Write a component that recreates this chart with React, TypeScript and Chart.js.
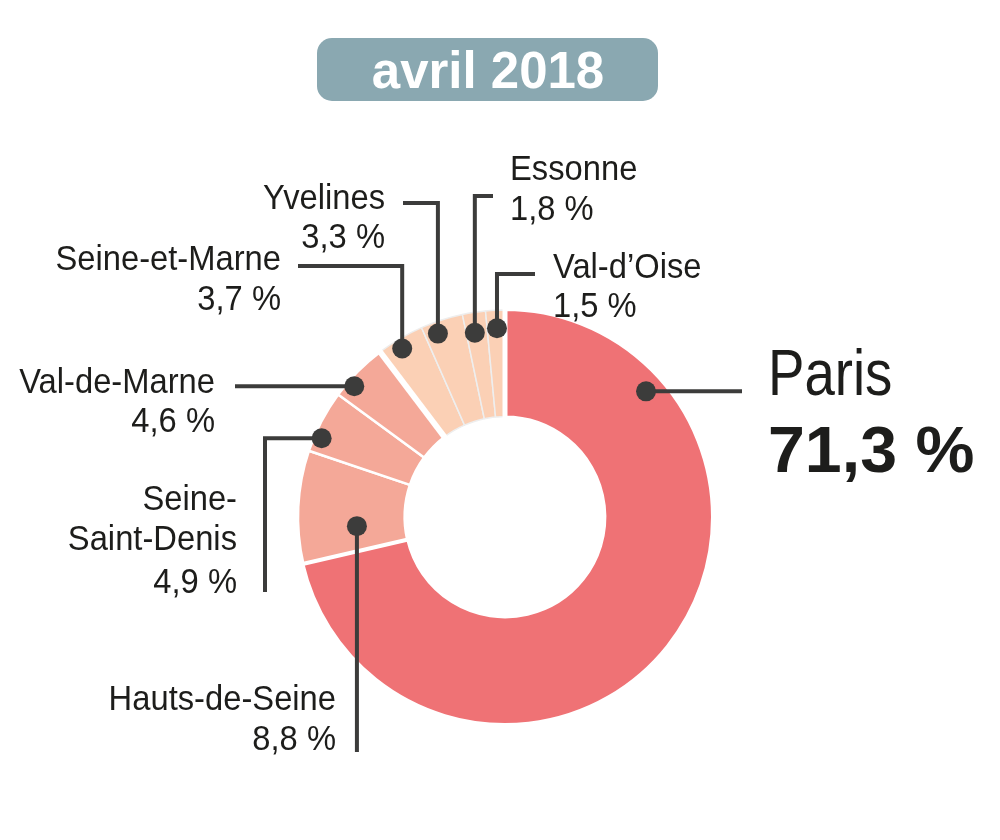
import { useEffect, useRef } from "react";
import { Chart, registerables } from "chart.js";

Chart.register(...registerables);

// ---------- data ----------
const TITLE = "avril 2018";
const departments = [
  "Paris",
  "Hauts-de-Seine",
  "Seine-Saint-Denis",
  "Val-de-Marne",
  "Seine-et-Marne",
  "Yvelines",
  "Essonne",
  "Val-d’Oise",
];
const nameLines = [
  ["Paris"],
  ["Hauts-de-Seine"],
  ["Seine-", "Saint-Denis"],
  ["Val-de-Marne"],
  ["Seine-et-Marne"],
  ["Yvelines"],
  ["Essonne"],
  ["Val-d’Oise"],
];
const shares = [71.3, 8.8, 4.9, 4.6, 3.7, 3.3, 1.8, 1.5];
const segmentColors = [
  "#EF7275",
  "#F4A898",
  "#F4A898",
  "#F4A898",
  "#FBD0B5",
  "#FBD0B5",
  "#FBD0B5",
  "#FBD0B5",
];
const segmentBorders = ["#ffffff", "#ffffff", "#ffffff", "#ffffff", "#eeeeee", "#eeeeee", "#eeeeee", "#eeeeee"];

const fmt = (v: number) => v.toFixed(1).replace(".", ",") + " %";

// ---------- layout (label placement) ----------
type Step = ["h" | "v", number];
interface LabelLayout {
  t: number; // fraction along arc for the dot
  r: number; // radial fraction for the dot
  path: Step[];
  x: number;
  align: CanvasTextAlign;
  baselines: number[];
}
const labelLayout: LabelLayout[] = [
  { t: 0.188, r: 0.83, path: [["h", 742]], x: 768, align: "left", baselines: [395, 472] },
  { t: 0.3, r: 0.45, path: [["v", 752]], x: 336, align: "right", baselines: [710, 750] },
  { t: 0.26, r: 0.93, path: [["h", 265], ["v", 592]], x: 237, align: "right", baselines: [510, 550, 593] },
  { t: 0.28, r: 0.93, path: [["h", 235]], x: 215, align: "right", baselines: [393, 432] },
  { t: 0.43, r: 0.91, path: [["v", 266], ["h", 298]], x: 281, align: "right", baselines: [270, 310] },
  { t: 0.31, r: 0.89, path: [["v", 203], ["h", 403]], x: 385, align: "right", baselines: [209, 248] },
  { t: 0.4, r: 0.81, path: [["v", 196], ["h", 493]], x: 510, align: "left", baselines: [180, 220] },
  { t: 0.55, r: 0.83, path: [["v", 274], ["h", 535]], x: 553, align: "left", baselines: [278, 317] },
];

const FONT = '"Liberation Sans", Arial, sans-serif';
const TEXT_COLOR = "#1d1d1b";
const LINE_COLOR = "#3c3c3b";
const SX_REG = 0.935;
const SX_BOLD = 0.98;

function drawText(
  ctx: CanvasRenderingContext2D,
  text: string,
  x: number,
  y: number,
  font: string,
  align: CanvasTextAlign,
  sx: number,
  color: string
) {
  ctx.save();
  ctx.translate(x, y);
  ctx.scale(sx, 1);
  ctx.font = font;
  ctx.textAlign = align;
  ctx.textBaseline = "alphabetic";
  ctx.fillStyle = color;
  ctx.fillText(text, 0, 0);
  ctx.restore();
}

const overlayPlugin = {
  id: "overlay",
  afterDatasetsDraw(chart: any) {
    const ctx: CanvasRenderingContext2D = chart.ctx;
    const meta = chart.getDatasetMeta(0);
    const arcs = meta.data;
    if (!arcs.length) return;
    const a0 = arcs[0];
    const cx = a0.x;
    const cy = a0.y;
    const inner = a0.innerRadius;
    const outer = a0.outerRadius;

    // white gaps between colour groups
    const gaps: [number, number][] = [
      [arcs[0].startAngle, 5],
      [arcs[0].endAngle, 4],
      [arcs[3].endAngle, 6],
    ];
    ctx.save();
    ctx.strokeStyle = "#ffffff";
    gaps.forEach(([ang, w]) => {
      ctx.lineWidth = w;
      ctx.beginPath();
      ctx.moveTo(cx + Math.cos(ang) * (inner - 2), cy + Math.sin(ang) * (inner - 2));
      ctx.lineTo(cx + Math.cos(ang) * (outer + 3), cy + Math.sin(ang) * (outer + 3));
      ctx.stroke();
    });
    ctx.restore();

    // title box
    ctx.save();
    ctx.fillStyle = "#8AA8B1";
    ctx.beginPath();
    (ctx as any).roundRect(317, 38, 341, 63, 15);
    ctx.fill();
    ctx.restore();
    drawText(ctx, TITLE, 488, 88, `bold 52px ${FONT}`, "center", SX_BOLD, "#ffffff");

    // leaders + labels
    arcs.forEach((arc: any, i: number) => {
      const L = labelLayout[i];
      const ang = arc.startAngle + L.t * (arc.endAngle - arc.startAngle);
      const rad = arc.innerRadius + L.r * (arc.outerRadius - arc.innerRadius);
      const px = arc.x + Math.cos(ang) * rad;
      const py = arc.y + Math.sin(ang) * rad;

      ctx.save();
      ctx.strokeStyle = LINE_COLOR;
      ctx.lineWidth = 4;
      ctx.lineJoin = "miter";
      ctx.lineCap = "butt";
      ctx.beginPath();
      ctx.moveTo(px, py);
      let x = px;
      let y = py;
      L.path.forEach(([dir, v]) => {
        if (dir === "h") x = v;
        else y = v;
        ctx.lineTo(x, y);
      });
      ctx.stroke();
      ctx.fillStyle = LINE_COLOR;
      ctx.beginPath();
      ctx.arc(px, py, 10, 0, Math.PI * 2);
      ctx.fill();
      ctx.restore();

      if (i === 0) {
        drawText(ctx, nameLines[i][0], L.x, L.baselines[0], `65px ${FONT}`, "left", 0.84, TEXT_COLOR);
        drawText(ctx, fmt(shares[i]), L.x, L.baselines[1], `bold 65px ${FONT}`, "left", 1.02, TEXT_COLOR);
      } else {
        const lines = [...nameLines[i], fmt(shares[i])];
        lines.forEach((s, k) => {
          drawText(ctx, s, L.x, L.baselines[k], `35px ${FONT}`, L.align, SX_REG, TEXT_COLOR);
        });
      }
    });
  },
};

export default function App() {
  const ref = useRef<HTMLCanvasElement | null>(null);

  useEffect(() => {
    document.body.style.margin = "0";
    const canvas = ref.current;
    if (!canvas) return;
    const chart = new Chart(canvas, {
      type: "doughnut",
      data: {
        labels: departments,
        datasets: [
          {
            data: shares,
            backgroundColor: segmentColors,
            borderColor: segmentBorders,
            borderWidth: [2, 2.5, 2.5, 2.5, 1.5, 1.5, 1.5, 1.5],
            hoverOffset: 0,
          },
        ],
      },
      options: {
        responsive: false,
        animation: false,
        radius: 207,
        cutout: "48.5%",
        layout: { padding: { left: 298, right: 288, top: 310, bottom: 116 } },
        plugins: {
          legend: { display: false },
          tooltip: { enabled: false },
          title: { display: false },
        },
        events: [],
      },
      plugins: [overlayPlugin],
    });
    return () => chart.destroy();
  }, []);

  return (
    <div style={{ width: 1000, height: 840, background: "#ffffff" }}>
      <canvas ref={ref} width={1000} height={840} style={{ display: "block", width: 1000, height: 840 }} />
    </div>
  );
}
